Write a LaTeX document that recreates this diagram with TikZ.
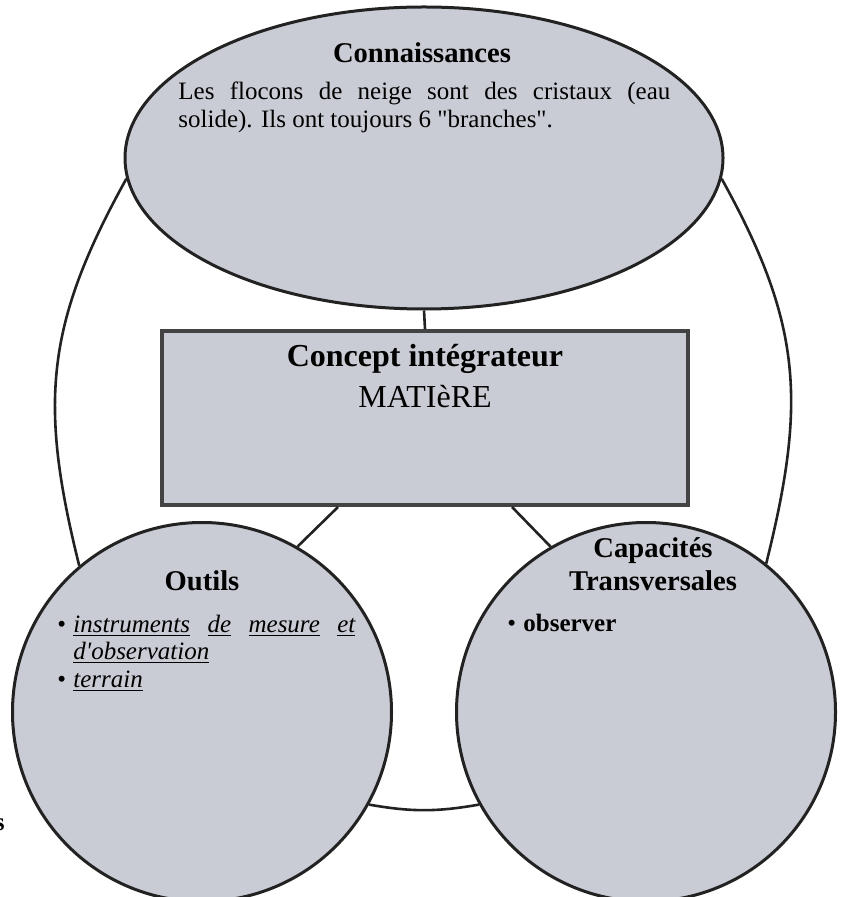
\documentclass[tikz,border=0pt]{standalone}
\usepackage{fontspec}
\setmainfont{Liberation Serif}
\usetikzlibrary{shapes.geometric}

\definecolor{zonefill}{RGB}{201,204,212}
\definecolor{trait}{RGB}{34,34,34}

\newcommand{\souli}[1]{\underline{#1}}

\begin{document}
\begin{tikzpicture}[x=0.5pt, y=-0.5pt,
    zone/.style={draw=trait, fill=zonefill, line width=1.5pt, inner sep=0pt},
    lien/.style={draw=trait, line width=1.3pt},
    titre/.style={font=\fontsize{14.3}{16.5}\selectfont\bfseries, inner sep=0pt},
    corps/.style={font=\fontsize{12.5}{14}\selectfont, inner sep=0pt, anchor=base west},
    liste/.style={corps, font=\fontsize{12.5}{13.75}\selectfont\itshape}]

    \useasboundingbox (0,0) rectangle (841,897);

    \def\dc{189.5pt}      % diametre des deux cercles du bas

    % les quatre zones
    \node[zone, ellipse, minimum width=299pt, minimum height=151pt] (conn) at (424,158) {};
    \node[zone, rectangle, line width=2pt, draw=trait!85, minimum width=263pt, minimum height=87pt] (cpt) at (425,418) {};
    \node[zone, circle, minimum size=\dc] (outils) at (202,712) {};
    \node[zone, circle, minimum size=\dc] (capa) at (646,712) {};

    % liens droits vers le concept
    \draw[lien]
        (conn.south) -- (cpt.north)
        ([xshift=-43.5pt]cpt.south) -- (outils.60)
        ([xshift=43.5pt]cpt.south) -- (capa.120)
    ;

    % grand anneau autour
    \draw[lien]
        (conn.184) to[out=241, in=104, looseness=1.1] (outils.130)
        (conn.-4) to[out=-61, in=76, looseness=1.1] (capa.51)
        (outils.-29) to[out=-10, in=190] (capa.209)
    ;

    % Connaissances
    \node[titre, anchor=base] (t-conn) at (422,63) {Connaissances};
    \node[corps, text width=246pt, align=justify] (x-conn) at (178,100)
        {Les flocons de neige sont des cristaux (eau\linebreak solide). Ils ont toujours 6 \textquotedbl branches\textquotedbl.};

    % Concept
    \node[titre, font=\fontsize{16}{19}\selectfont\bfseries, anchor=base] (t-cpt) at (425,366) {Concept intégrateur};
    \node[corps, font=\fontsize{16}{19}\selectfont, anchor=base] (x-cpt) at (425,407) {MATIèRE};

    % Outils
    \node[titre, anchor=base] (t-outils) at (202,590) {Outils};
    \node[corps] (b-o1) at (57,632) {•};
    \node[liste, text width=141pt, align=justify] (o1) at (73,632)
        {\souli{instruments} \souli{de} \souli{mesure} \souli{et}\linebreak \souli{d\textquotesingle observation}};
    \node[corps] (b-o2) at (57,687) {•};
    \node[liste] (o2) at (73,687) {\souli{terrain}};

    % Capacites
    \node[titre, anchor=base] (t-capa1) at (653,557) {Capacités};
    \node[titre, anchor=base] (t-capa2) at (653,590) {Transversales};
    \node[corps] (b-c1) at (507,631) {•};
    \node[corps, font=\fontsize{12.5}{14}\selectfont\bfseries] (c1) at (523,631) {observer};

    % bout de texte coupe au bord
    \node[corps, font=\fontsize{12.5}{14}\selectfont\bfseries, anchor=base east] (s-bord) at (5,830) {s};

\end{tikzpicture}
\end{document}
